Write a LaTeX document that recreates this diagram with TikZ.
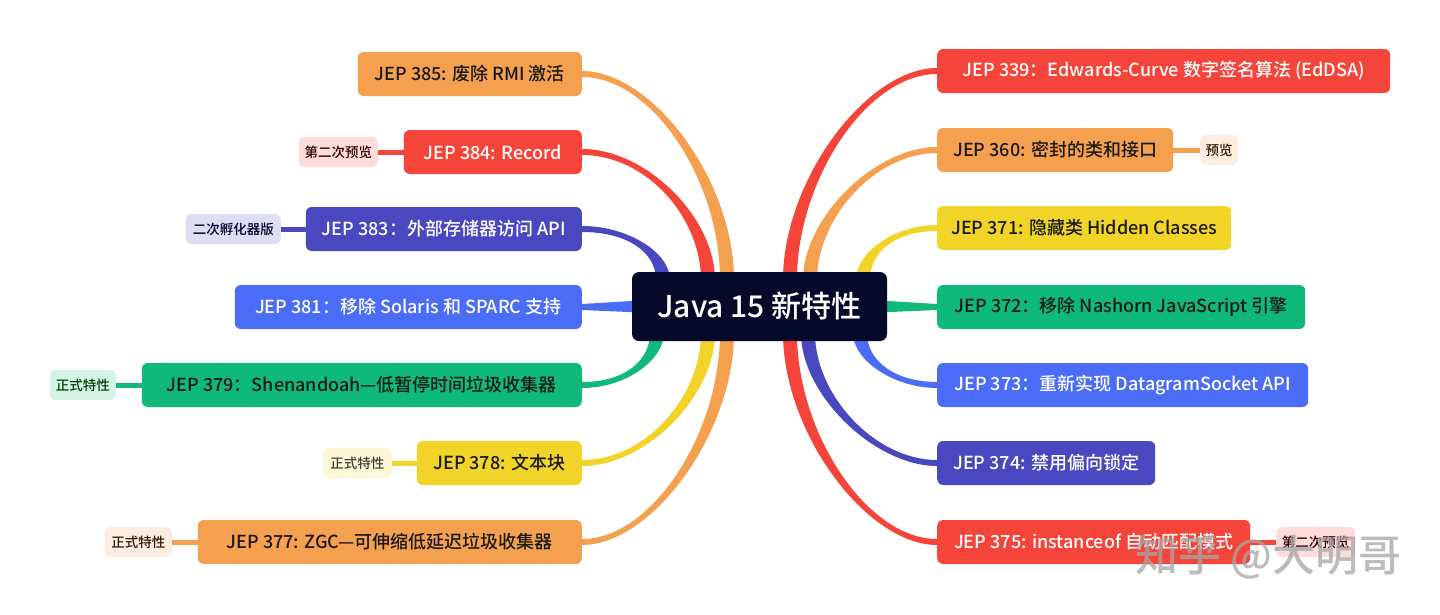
\documentclass[tikz,border=0pt]{standalone}
\usepackage{fontspec}
\setmainfont{Noto Sans CJK SC}[UprightFont=* Medium]
\usetikzlibrary{calc}
\pgfdeclarelayer{back}
\pgfdeclarelayer{bg}
\pgfsetlayers{back,bg,main}
\definecolor{cOr}{HTML}{F4A04F}
\definecolor{cRed}{HTML}{F5443A}
\definecolor{cInd}{HTML}{4A48C0}
\definecolor{cBlue}{HTML}{4A6CF7}
\definecolor{cGrn}{HTML}{0EB97A}
\definecolor{cYel}{HTML}{F2D428}
\definecolor{cNavy}{HTML}{050A2A}
\definecolor{tPink}{HTML}{FDDCD9}
\definecolor{tLav}{HTML}{DDDDF3}
\definecolor{tMint}{HTML}{D4F4E6}
\definecolor{tYel}{HTML}{FDF7D6}
\definecolor{tPeach}{HTML}{FDEDE0}
\definecolor{txtDark}{HTML}{1A1A1A}
% #1 colour, #2 node, #3 anchor, #4 end coordinate, #5 c1, #6 c2, #7 sx, #8 sy
\newcommand\branch[8]{%
  \fill[#1] ($(#2.#3)+(0,{(#8)*3})$) .. controls +({(#7)*#5},0) and +(0,{(#8)*#6}) ..
    ($(#4)+({(#7)*7},0)$) -- ($(#4)+({-1*(#7)*7},0)$)
    .. controls +(0,{(#8)*#6}) and +({(#7)*#5},0) .. ($(#2.#3)+(0,{-1*(#8)*3})$) -- cycle;}
\tikzset{
  box/.style={rounded corners=6pt, minimum height=44pt, inner xsep=0pt, font=\fontsize{18}{21}\selectfont},
  dk/.style={text=txtDark},
  lt/.style={text=white},
  tag/.style={rounded corners=6pt, minimum height=30pt, inner xsep=0pt, font=\fontsize{13.5}{15}\selectfont},
  tagline/.style={line width=5pt},
}
\begin{document}
\begin{tikzpicture}[x=1pt,y=-1pt]
\useasboundingbox (0,0) rectangle (1440,614);
\begin{pgfonlayer}{back}
\fill[white] (0,0) rectangle (1440,614);
\end{pgfonlayer}
% centre
\node[rounded corners=7pt, fill=cNavy, text=white, minimum width=255pt, minimum height=69pt, inner sep=0pt,
      font=\fontsize{30}{34}\selectfont] (c) at (759.5,306.5) {Java 15 新特性};
% left nodes
\node[box, dk, fill=cOr,   minimum width=224pt, anchor=east] (n385) at (582,74)  {JEP 385: 废除 RMI 激活};
\node[box, lt, fill=cRed,  minimum width=178pt, anchor=east] (n384) at (582,152) {JEP 384: Record};
\node[box, lt, fill=cInd,  minimum width=276pt, anchor=east] (n383) at (582,229) {JEP 383：外部存储器访问 API};
\node[box, lt, fill=cBlue, minimum width=347pt, anchor=east] (n381) at (582,307) {JEP 381：移除 Solaris 和 SPARC 支持};
\node[box, dk, fill=cGrn,  minimum width=440pt, anchor=east] (n379) at (582,385) {JEP 379：Shenandoah—低暂停时间垃圾收集器};
\node[box, dk, fill=cYel,  minimum width=165pt, anchor=east] (n378) at (582,463) {JEP 378: 文本块};
\node[box, dk, fill=cOr,   minimum width=384pt, anchor=east] (n377) at (582,542) {JEP 377: ZGC—可伸缩低延迟垃圾收集器};
% right nodes
\node[box, lt, fill=cRed,  minimum width=453pt, anchor=west] (n339) at (937,71)  {JEP 339：Edwards-Curve 数字签名算法 (EdDSA)};
\node[box, dk, fill=cOr,   minimum width=236pt, anchor=west] (n360) at (937,150) {JEP 360: 密封的类和接口};
\node[box, dk, fill=cYel,  minimum width=294pt, anchor=west] (n371) at (937,228) {JEP 371: 隐藏类 Hidden Classes};
\node[box, dk, fill=cGrn,  minimum width=368pt, anchor=west] (n372) at (937,307) {JEP 372：移除 Nashorn JavaScript 引擎};
\node[box, lt, fill=cBlue, minimum width=371pt, anchor=west] (n373) at (937,385) {JEP 373：重新实现 DatagramSocket API};
\node[box, lt, fill=cInd,  minimum width=218pt, anchor=west] (n374) at (937,463) {JEP 374: 禁用偏向锁定};
\node[box, lt, fill=cRed,  minimum width=313pt, anchor=west] (n375) at (937,542) {JEP 375: instanceof 自动匹配模式};
% tags
\node[tag, fill=tPink,  text=black!80!red,   minimum width=79pt, anchor=east] (t384) at (378,152) {第二次预览};
\node[tag, fill=tLav,   text=black!85!blue,  minimum width=95pt, anchor=east] (t383) at (281,229) {二次孵化器版};
\node[tag, fill=tMint,  text=black!75!green, minimum width=66pt, anchor=east] (t379) at (116,385) {正式特性};
\node[tag, fill=tYel,   text=black!85!yellow,minimum width=69pt, anchor=east] (t378) at (392,463) {正式特性};
\node[tag, fill=tPeach, text=black!80!orange,minimum width=67pt, anchor=east] (t377) at (172,542) {正式特性};
\node[tag, fill=tPeach, text=black!80!orange,minimum width=38pt, anchor=west] (t360) at (1200,150) {预览};
\node[tag, fill=tPink,  text=black!80!red,   minimum width=79pt, anchor=west] (t375) at (1276,542) {第二次预览};
% entry points on the centre node
\coordinate (e385) at (727,280);
\coordinate (e384) at (708,280);
\coordinate (e383) at (663,280);
\coordinate (e379) at (657,333);
\coordinate (e378) at (708,333);
\coordinate (e377) at (727,333);
\coordinate (e339) at (790,280);
\coordinate (e360) at (810,280);
\coordinate (e371) at (863,280);
\coordinate (e373) at (860,333);
\coordinate (e374) at (808,333);
\coordinate (e375) at (790,333);
\begin{pgfonlayer}{bg}
\branch{cOr}{n385}{east}{e385}{70}{100}{1}{-1}
\branch{cRed}{n384}{east}{e384}{65}{62}{1}{-1}
\branch{cInd}{n383}{east}{e383}{45}{28}{1}{-1}
\fill[cBlue] ($(n381.east)+(0,-3)$) -- ($(c.west)+(8,-6)$) -- ($(c.west)+(8,6)$) -- ($(n381.east)+(0,3)$) -- cycle;
\branch{cGrn}{n379}{east}{e379}{45}{26}{1}{1}
\branch{cYel}{n378}{east}{e378}{65}{62}{1}{1}
\branch{cOr}{n377}{east}{e377}{70}{100}{1}{1}
\branch{cRed}{n339}{west}{e339}{70}{100}{-1}{-1}
\branch{cOr}{n360}{west}{e360}{62}{62}{-1}{-1}
\branch{cYel}{n371}{west}{e371}{42}{28}{-1}{-1}
\fill[cGrn] ($(n372.west)+(0,-3)$) -- ($(c.east)+(-8,-6)$) -- ($(c.east)+(-8,6)$) -- ($(n372.west)+(0,3)$) -- cycle;
\branch{cBlue}{n373}{west}{e373}{42}{28}{-1}{1}
\branch{cInd}{n374}{west}{e374}{62}{62}{-1}{1}
\branch{cRed}{n375}{west}{e375}{70}{100}{-1}{1}
\draw[tagline, cRed] (t384.east) -- (n384.west);
\draw[tagline, cInd] (t383.east) -- (n383.west);
\draw[tagline, cGrn] (t379.east) -- (n379.west);
\draw[tagline, cYel] (t378.east) -- (n378.west);
\draw[tagline, cOr]  (t377.east) -- (n377.west);
\draw[tagline, cOr]  (n360.east) -- (t360.west);
\draw[tagline, cRed] (n375.east) -- (t375.west);
\end{pgfonlayer}
% watermark
\node[text=gray!70, opacity=0.75, font=\fontsize{43}{46}\selectfont, anchor=west, inner sep=0pt] (wm) at (1135,557) {知乎 @大明哥};
\end{tikzpicture}
\end{document}
